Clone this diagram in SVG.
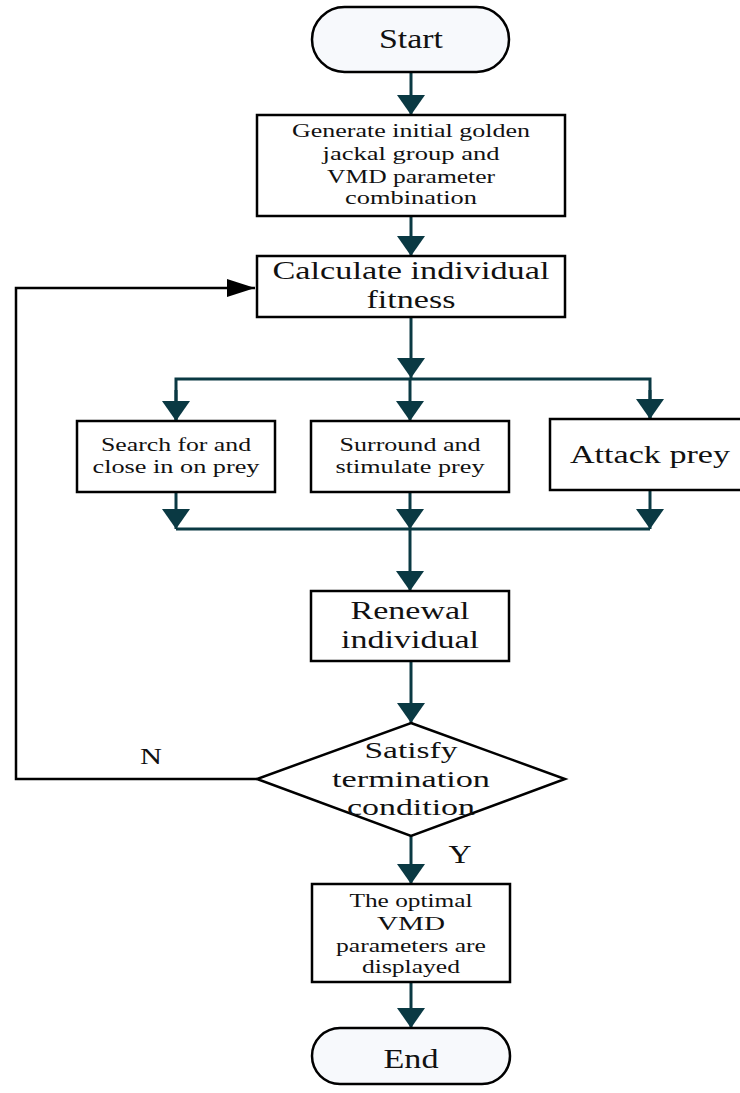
<svg xmlns="http://www.w3.org/2000/svg" width="740" height="1093" viewBox="0 0 740 1093">
<defs>
<style>
.box{fill:#fff;stroke:#000;stroke-width:2.5}
.term{fill:#f7f9fc;stroke:#000;stroke-width:2.5}
.t{font-family:"Liberation Serif","Times New Roman",serif;fill:#111;text-anchor:middle}
.s{font-size:18px}
.l{font-size:26px}
.m{font-size:24px}
.c{fill:none;stroke:#0a3943;stroke-width:3}
.k{fill:none;stroke:#000;stroke-width:2.5}
</style>
<marker id="ah" markerUnits="userSpaceOnUse" markerWidth="28" markerHeight="28" viewBox="0 0 20 28" refX="20" refY="14" orient="auto">
<path d="M0,0 L20,14 L0,28 z" fill="#0a3943"/>
</marker>
<marker id="ak" markerUnits="userSpaceOnUse" markerWidth="28" markerHeight="20" viewBox="0 0 28 20" refX="28" refY="10" orient="auto">
<path d="M0,1 L28,10 L0,19 z" fill="#000"/>
</marker>
</defs>
<rect width="740" height="1093" fill="#fff"/>
<g id="connectors">
<line class="c" x1="411" y1="72" x2="411" y2="115" marker-end="url(#ah)"/>
<line class="c" x1="411" y1="216" x2="411" y2="256" marker-end="url(#ah)"/>
<line class="c" x1="411" y1="317" x2="411" y2="378" marker-end="url(#ah)"/>
<polyline class="c" points="176,420 176,379 650,379 650,419"/>
<line class="c" x1="176" y1="390" x2="176" y2="421" marker-end="url(#ah)"/>
<line class="c" x1="410" y1="379" x2="410" y2="421" marker-end="url(#ah)"/>
<line class="c" x1="650" y1="390" x2="650" y2="419" marker-end="url(#ah)"/>
<line class="c" x1="176" y1="492" x2="176" y2="529" marker-end="url(#ah)"/>
<line class="c" x1="410" y1="492" x2="410" y2="529" marker-end="url(#ah)"/>
<line class="c" x1="650" y1="490" x2="650" y2="529" marker-end="url(#ah)"/>
<line class="c" x1="176" y1="529" x2="650" y2="529"/>
<line class="c" x1="410" y1="529" x2="410" y2="591" marker-end="url(#ah)"/>
<line class="c" x1="411" y1="661" x2="411" y2="723" marker-end="url(#ah)"/>
<line class="c" x1="411" y1="836" x2="411" y2="884" marker-end="url(#ah)"/>
<line class="c" x1="411" y1="982" x2="411" y2="1028" marker-end="url(#ah)"/>
<polyline class="k" points="257,779 16,779 16,288 255,288" marker-end="url(#ak)"/>
<text class="t" x="151" y="764" font-size="24" textLength="22" lengthAdjust="spacingAndGlyphs">N</text>
<text class="t" x="460" y="863" font-size="25" textLength="23" lengthAdjust="spacingAndGlyphs">Y</text>
</g>
<g id="start">
<rect class="term" x="312" y="7" width="197" height="65" rx="32.5"/>
<text class="t" x="411" y="48" font-size="27" textLength="64" lengthAdjust="spacingAndGlyphs">Start</text>
</g>
<g id="generate">
<rect class="box" x="257" y="115" width="308" height="101"/>
<text class="t s" x="411" y="137" textLength="238" lengthAdjust="spacingAndGlyphs">Generate initial golden</text>
<text class="t s" x="411" y="160" textLength="177" lengthAdjust="spacingAndGlyphs">jackal group and</text>
<text class="t s" x="411" y="183" textLength="168" lengthAdjust="spacingAndGlyphs">VMD parameter</text>
<text class="t s" x="411" y="204" textLength="132" lengthAdjust="spacingAndGlyphs">combination</text>
</g>
<g id="calculate">
<rect class="box" x="257" y="256" width="308" height="61"/>
<text class="t l" x="411" y="279" textLength="277" lengthAdjust="spacingAndGlyphs">Calculate individual</text>
<text class="t l" x="411" y="308" textLength="89" lengthAdjust="spacingAndGlyphs">fitness</text>
</g>
<g id="search">
<rect class="box" x="77" y="421" width="198" height="71"/>
<text class="t s" x="176" y="451" textLength="150" lengthAdjust="spacingAndGlyphs">Search for and</text>
<text class="t s" x="176" y="473" textLength="167" lengthAdjust="spacingAndGlyphs">close in on prey</text>
</g>
<g id="surround">
<rect class="box" x="311" y="421" width="198" height="71"/>
<text class="t s" x="410" y="451" textLength="141" lengthAdjust="spacingAndGlyphs">Surround and</text>
<text class="t s" x="410" y="473" textLength="149" lengthAdjust="spacingAndGlyphs">stimulate prey</text>
</g>
<g id="attack">
<rect class="box" x="550" y="419" width="200" height="71"/>
<text class="t l" x="650" y="463" textLength="160" lengthAdjust="spacingAndGlyphs">Attack prey</text>
</g>
<g id="renewal">
<rect class="box" x="311" y="591" width="198" height="70"/>
<text class="t l" x="410" y="619" textLength="119" lengthAdjust="spacingAndGlyphs">Renewal</text>
<text class="t l" x="410" y="648" textLength="138" lengthAdjust="spacingAndGlyphs">individual</text>
</g>
<g id="decision">
<polygon class="box" points="411,723 565,779 411,836 257,779"/>
<text class="t m" x="411" y="758" textLength="93" lengthAdjust="spacingAndGlyphs">Satisfy</text>
<text class="t m" x="411" y="787" textLength="158" lengthAdjust="spacingAndGlyphs">termination</text>
<text class="t m" x="411" y="815" textLength="128" lengthAdjust="spacingAndGlyphs">condition</text>
</g>
<g id="optimal">
<rect class="box" x="312" y="884" width="198" height="98"/>
<text class="t s" x="411" y="907" textLength="123" lengthAdjust="spacingAndGlyphs">The optimal</text>
<text class="t s" x="411" y="930" textLength="68" lengthAdjust="spacingAndGlyphs">VMD</text>
<text class="t s" x="411" y="952" textLength="150" lengthAdjust="spacingAndGlyphs">parameters are</text>
<text class="t s" x="411" y="973" textLength="98" lengthAdjust="spacingAndGlyphs">displayed</text>
</g>
<g id="end">
<rect class="term" x="312" y="1028" width="198" height="56" rx="28"/>
<text class="t" x="411" y="1068" font-size="27" textLength="55" lengthAdjust="spacingAndGlyphs">End</text>
</g>
</svg>
